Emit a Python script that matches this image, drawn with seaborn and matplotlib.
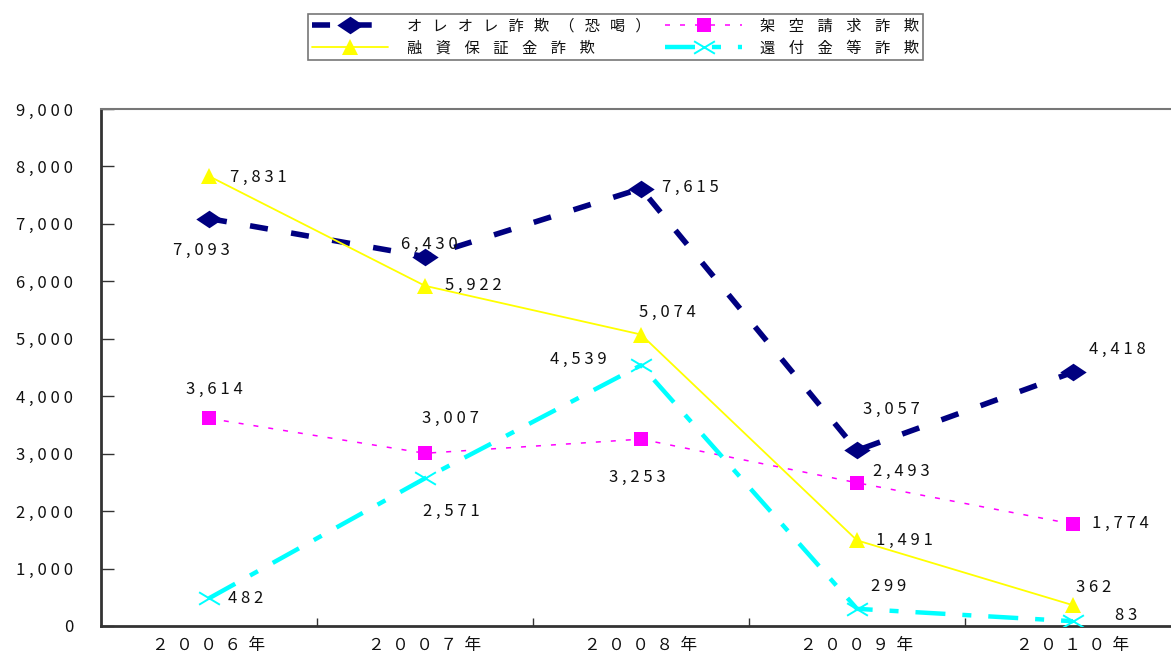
import matplotlib
matplotlib.use("Agg")
import matplotlib.pyplot as plt
from matplotlib.path import Path
from matplotlib.ticker import FixedLocator, FuncFormatter
import numpy as np
import pandas as pd
import seaborn as sns

# ---- data ----
years = ["２００６年", "２００７年", "２００８年", "２００９年", "２０１０年"]
series_names = ["オレオレ詐欺（恐喝）", "架空請求詐欺", "融資保証金詐欺", "還付金等詐欺"]
oreore = [7093, 6430, 7615, 3057, 4418]
kaku = [3614, 3007, 3253, 2493, 1774]
yushi = [7831, 5922, 5074, 1491, 362]
kanpu = [482, 2571, 4539, 299, 83]
y_ticks = [0, 1000, 2000, 3000, 4000, 5000, 6000, 7000, 8000, 9000]

sns.set_theme(style="white")
plt.rcParams["font.family"] = ["Noto Sans CJK JP", "DejaVu Sans"]
plt.rcParams["lines.scale_dashes"] = False


def spaced(s, sep=" "):
    return sep.join(str(s))


idx = list(range(len(years)))
df = pd.DataFrame({"idx": idx * 4,
                   "value": oreore + kaku + yushi + kanpu,
                   "series": sum([[n] * len(years) for n in series_names], [])})

diamond = Path([(-1.5, 0), (0, 1), (1.5, 0), (0, -1), (-1.5, 0)],
               [Path.MOVETO, Path.LINETO, Path.LINETO, Path.LINETO, Path.CLOSEPOLY])
flat_x = Path([(-1, -0.6), (1, 0.6), (-1, 0.6), (1, -0.6)],
              [Path.MOVETO, Path.LINETO, Path.MOVETO, Path.LINETO])

styles = {
    "オレオレ詐欺（恐喝）": dict(color="#000080", lw=4.0, ls=(0, (13, 17)),
                        marker=diamond, ms=19, mfc="#000080", mec="#000080", mew=0),
    "架空請求詐欺": dict(color="#FF00FF", lw=1.1, ls=(0, (3.6, 7.2)),
                   marker="s", ms=9.5, mfc="#FF00FF", mec="#FF00FF", mew=0),
    "融資保証金詐欺": dict(color="#FFFF00", lw=1.3, ls="-",
                    marker="^", ms=11, mfc="#FFFF00", mec="#FFFF00", mew=0),
    "還付金等詐欺": dict(color="#00FFFF", lw=3.2, ls=(0, (21.6, 12.2, 6.5, 12.2)),
                   marker=flat_x, ms=15, mfc="none", mec="#00FFFF", mew=1.4),
}

# label offsets in pixels (dx, dy, ha)
offsets = {
    "オレオレ詐欺（恐喝）": [(-8, -32, "center"), (4, 12, "center"), (21, 1, "left"),
                        (34, 41, "center"), (44, 23, "center")],
    "架空請求詐欺": [(5, 29, "center"), (25, 35, "center"), (-4, -38, "center"),
                   (16, 11, "left"), (19, 1, "left")],
    "融資保証金詐欺": [(21, -1, "left"), (20, 0, "left"), (26, 22, "center"),
                    (19, 0, "left"), (21, 18, "center")],
    "還付金等詐欺": [(19, 0, "left"), (26, -33, "center"), (-34, 6, "right"),
                   (32, 22, "center"), (42, 6, "left")],
}

# legend character spacing per entry
legend_sep = {"オレオレ詐欺（恐喝）": "   ", "架空請求詐欺": "    ",
              "融資保証金詐欺": "    ", "還付金等詐欺": "    "}

fig = plt.figure(figsize=(11.71, 6.57), dpi=100)
ax = fig.add_axes([101 / 1171, 31 / 657, 1080 / 1171, 517 / 657])

handles = {}
for name in series_names:
    st = styles[name]
    sub = df[df["series"] == name]
    sns.lineplot(data=sub, x="idx", y="value", ax=ax, color=st["color"],
                 linewidth=st["lw"], linestyle=st["ls"], marker=st["marker"],
                 markersize=st["ms"], markerfacecolor=st["mfc"],
                 markeredgecolor=st["mec"], markeredgewidth=st["mew"],
                 legend=False, estimator=None, sort=False, zorder=3)
    handles[name] = ax.lines[-1]
    for (xi, v), (dx, dy, ha) in zip(zip(sub["idx"], sub["value"]), offsets[name]):
        ax.annotate(spaced(f"{v:,}"), (xi, v), xytext=(dx, dy),
                    textcoords="offset pixels", ha=ha, va="center",
                    fontsize=12, color="#111111", zorder=5)

ax.set_xlim(-0.5, len(years) - 0.5)
ax.set_ylim(0, 9000)
ax.set_xlabel("")
ax.set_ylabel("")

ax.xaxis.set_major_locator(FixedLocator(idx))
ax.set_xticklabels([spaced(y, "  ") for y in years], fontsize=12, color="#111111")
ax.xaxis.set_minor_locator(FixedLocator([i + 0.5 for i in idx[:-1]]))
ax.tick_params(axis="x", which="major", length=0, pad=8)
ax.tick_params(axis="x", which="minor", length=6, width=1, direction="in",
               color="#333333", bottom=True)

ax.yaxis.set_major_locator(FixedLocator(y_ticks))
ax.yaxis.set_major_formatter(FuncFormatter(lambda v, p: spaced(f"{int(v):,}")))
ax.tick_params(axis="y", which="major", length=9, width=1, direction="in",
               color="#333333", left=True, pad=20, labelsize=12,
               labelcolor="#111111")

for side in ["left", "bottom"]:
    ax.spines[side].set_color("#333333")
    ax.spines[side].set_linewidth(2)
ax.spines["top"].set_color("#777777")
ax.spines["top"].set_linewidth(1.5)
ax.spines["right"].set_visible(False)

order = ["オレオレ詐欺（恐喝）", "融資保証金詐欺", "架空請求詐欺", "還付金等詐欺"]
leg = fig.legend([handles[n] for n in order], [spaced(n, legend_sep[n]) for n in order],
                 loc="upper left", bbox_to_anchor=(308 / 1171, 1 - 14 / 657),
                 ncol=2, frameon=True, fancybox=False, edgecolor="#555555",
                 fontsize=11, handlelength=5.0, handletextpad=1.2,
                 columnspacing=1.0, borderpad=0.25, labelspacing=0.3,
                 borderaxespad=0)
leg.get_frame().set_linewidth(1.2)
for t in leg.get_texts():
    t.set_color("#111111")

fig.savefig("out.png", dpi=100, facecolor="white")
